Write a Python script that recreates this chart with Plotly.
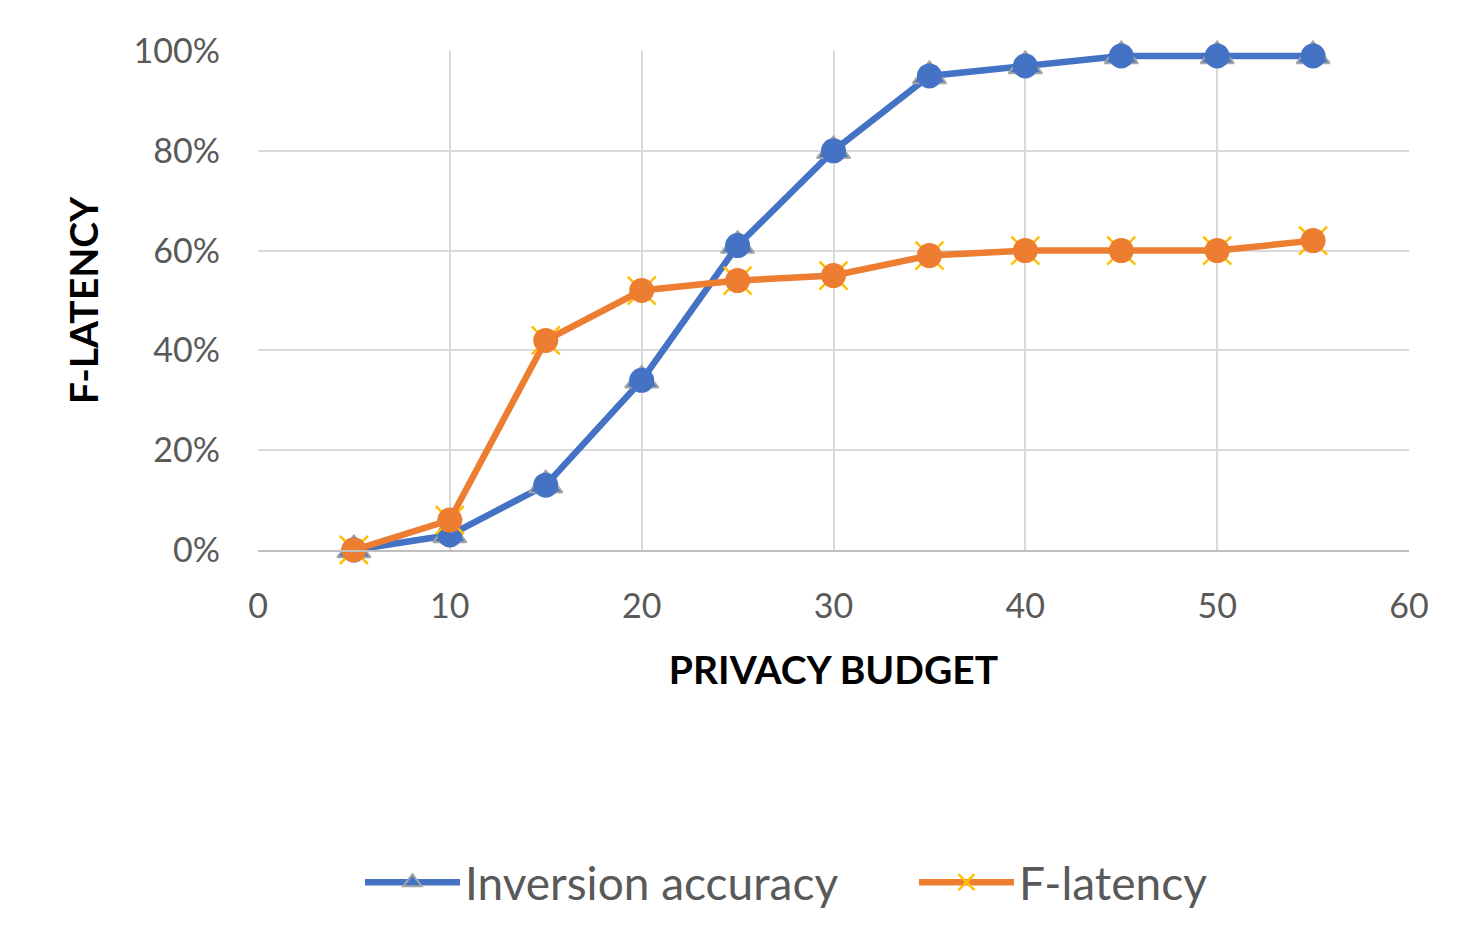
import plotly.graph_objects as go

budget = [5, 10, 15, 20, 25, 30, 35, 40, 45, 50, 55]
inversion_accuracy = [0.00, 0.03, 0.13, 0.34, 0.61, 0.80, 0.95, 0.97, 0.99, 0.99, 0.99]
f_latency = [0.00, 0.06, 0.42, 0.52, 0.54, 0.55, 0.59, 0.60, 0.60, 0.60, 0.62]

BLUE = "#4472C4"
ORANGE = "#ED7D31"
GOLD = "#FFC000"
GRAY_TXT = "#595959"
FONT = "Lato"

fig = go.Figure()

fig.add_trace(go.Scatter(
    x=budget, y=inversion_accuracy, name="Inversion accuracy",
    mode="lines+markers",
    line=dict(color=BLUE, width=6.5),
    marker=dict(symbol="triangle-up", size=29, color=BLUE,
                line=dict(color="#A5A5A5", width=2)),
    cliponaxis=False,
))
fig.add_trace(go.Scatter(
    x=budget, y=inversion_accuracy, mode="markers", showlegend=False,
    marker=dict(symbol="circle", size=25, color=BLUE),
    cliponaxis=False, hoverinfo="skip",
))
fig.add_trace(go.Scatter(
    x=budget, y=f_latency, name="F-latency",
    mode="lines+markers",
    line=dict(color=ORANGE, width=6.5),
    marker=dict(symbol="x-thin", size=28, color=GOLD,
                line=dict(color=GOLD, width=2.5)),
    cliponaxis=False,
))
fig.add_trace(go.Scatter(
    x=budget, y=f_latency, mode="markers", showlegend=False,
    marker=dict(symbol="circle", size=25, color=ORANGE),
    cliponaxis=False, hoverinfo="skip",
))

fig.update_layout(
    width=1481, height=952,
    margin=dict(l=250, r=80, t=43, b=410),
    paper_bgcolor="white", plot_bgcolor="white",
    font=dict(family=FONT, color=GRAY_TXT),
    legend=dict(orientation="h", x=0.0886, xanchor="left", y=-0.666, yanchor="middle",
                font=dict(size=46, color=GRAY_TXT), itemwidth=95,
                entrywidth=444, entrywidthmode="pixels",
                tracegroupgap=0, itemsizing="trace"),
    xaxis=dict(
        range=[0, 60], dtick=10, tick0=0,
        showgrid=True, gridcolor="#D9D9D9", gridwidth=2,
        showline=True, linecolor="#BFBFBF", linewidth=2,
        zeroline=False, ticks="", ticklabelstandoff=25,
        tickfont=dict(size=34, color=GRAY_TXT),
        title=dict(text="<b>PRIVACY BUDGET</b>", standoff=33,
                   font=dict(size=39, color="black")),
    ),
    yaxis=dict(
        range=[0, 1], dtick=0.2, tickformat=".0%",
        showgrid=True, gridcolor="#D9D9D9", gridwidth=2,
        zeroline=False, showline=False, ticks="", ticklabelstandoff=37,
        tickfont=dict(size=34, color=GRAY_TXT),
        title=dict(text="<b>F-LATENCY</b>", standoff=22,
                   font=dict(size=39, color="black")),
    ),
)

fig.write_html("out.html")
